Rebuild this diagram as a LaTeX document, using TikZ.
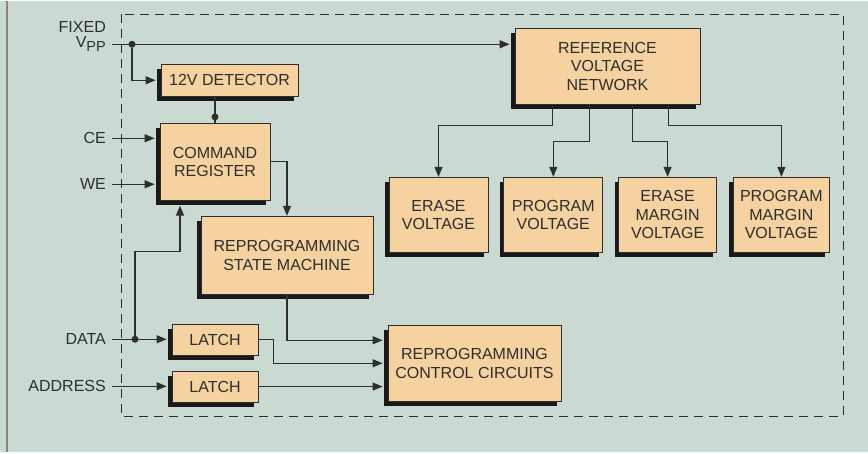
\documentclass[tikz,border=0pt]{standalone}
\usepackage{fontspec}
\setmainfont{Liberation Sans}
\usetikzlibrary{arrows.meta,positioning,shadows}
\definecolor{sage}{HTML}{CADAD3}
\definecolor{tan}{HTML}{F5D2A0}
\definecolor{ink}{HTML}{2E2E2E}
\definecolor{edge}{HTML}{8A837E}

\begin{document}
\begin{tikzpicture}[x=1pt,y=1pt,
  font=\fontsize{16}{18.5}\selectfont,
  blk/.style={draw=ink,line width=0.8pt,fill=tan,text=ink,align=center,inner sep=2pt,
              drop shadow={shadow xshift=-4pt,shadow yshift=-5pt,fill=black!90,opacity=1}},
  lbl/.style={anchor=east,inner xsep=6pt,inner ysep=0pt,text=ink},
  dot/.style={circle,fill=ink,inner sep=0pt,minimum size=7pt},
  link/.style={-{Triangle[length=10pt,width=8pt]},line width=1.1pt,draw=ink},
  into/.style={link,shorten >=5pt}
]
% backdrop and chip outline
\fill[sage] (0,0) rectangle (868,-451);
\draw[edge,line width=2.5pt] (7,0) -- (7,-451);
\draw[ink,line width=1pt,dash pattern=on 9pt off 6pt] (121,-13) rectangle (843,-415);

\node[blk,minimum width=137pt,minimum height=32pt] (det) at (229.5,-79) {12V DETECTOR};
\node[blk,minimum width=110pt,minimum height=77pt] (cmd) at (215,-160.5) {COMMAND\\REGISTER};
\node[blk,minimum width=172pt,minimum height=78pt] (rsm) at (287,-254) {REPROGRAMMING\\STATE MACHINE};
\node[blk,minimum width=86pt,minimum height=31pt] (latch1) at (215,-338.5) {LATCH};
\node[blk,minimum width=86pt,minimum height=31pt,below=15pt of latch1] (latch2) {LATCH};
\node[blk,minimum width=173pt,minimum height=76pt] (ctrl) at (474.5,-362) {REPROGRAMMING\\CONTROL CIRCUITS};

\node[blk,minimum width=185pt,minimum height=76pt] (ref) at (607.5,-65) {REFERENCE\\VOLTAGE\\NETWORK};
\node[blk,minimum width=99pt,minimum height=75pt] (erase) at (438.5,-213.5) {ERASE\\VOLTAGE};
\node[blk,minimum width=99pt,minimum height=75pt,right=15pt of erase] (prog) {PROGRAM\\VOLTAGE};
\node[blk,minimum width=98pt,minimum height=75pt,right=15pt of prog] (emarg) {ERASE\\MARGIN\\VOLTAGE};
\node[blk,minimum width=96pt,minimum height=75pt,right=16pt of emarg] (pmarg) {PROGRAM\\MARGIN\\VOLTAGE};

% pins
\node[lbl] (fixed) at (112,-26) {FIXED};
\node[lbl] (vpp) at (112,-43) {V\raisebox{-4pt}{\fontsize{14.5}{14.5}\selectfont PP}};
\node[lbl] (ce) at (112,-137) {CE};
\node[lbl] (we) at (112,-183) {WE};
\node[lbl] (data) at (112,-338) {DATA};
\node[lbl] (addr) at (112,-385) {ADDRESS};

\node[dot] (vdot) at (132,-43) {};
\node[dot] (cdot) at ([yshift=6pt]cmd.north) {};
\node[dot] (ddot) at (135,-338) {};

\draw[into] (vpp.east) -- (vpp.east -| ref.west);
\draw[into] (vdot) |- (det.west);
\draw[line width=1.1pt,draw=ink] (det.south -| cmd.north) -- (cmd.north);
\draw[into] (ce.east) -- (ce.east -| cmd.west);
\draw[into] (we.east) -- (we.east -| cmd.west);
\draw[link] (cmd.east) -| (rsm.north);
\draw[into] (data.east) -- (data.east -| latch1.west);
\draw[link,shorten >=5pt] (ddot) |- ++(45,88) -- ([xshift=-35pt]cmd.south);
\draw[into] (addr.east) -- (addr.east -| latch2.west);
\draw[into] (rsm.south) |- ([yshift=23pt]ctrl.west);
\draw[into] (latch1.east) -- ++(15,0) |- (ctrl.west);
\draw[into] (latch2.east) -- (latch2.east -| ctrl.west);
\foreach \tgt/\dx/\dy in {erase/-55/21,prog/-18/37,emarg/25/37,pmarg/61/21}
  {\draw[link] ([xshift=\dx pt]ref.south) -- ++(0,-\dy) -| (\tgt.north);}
\end{tikzpicture}
\end{document}
